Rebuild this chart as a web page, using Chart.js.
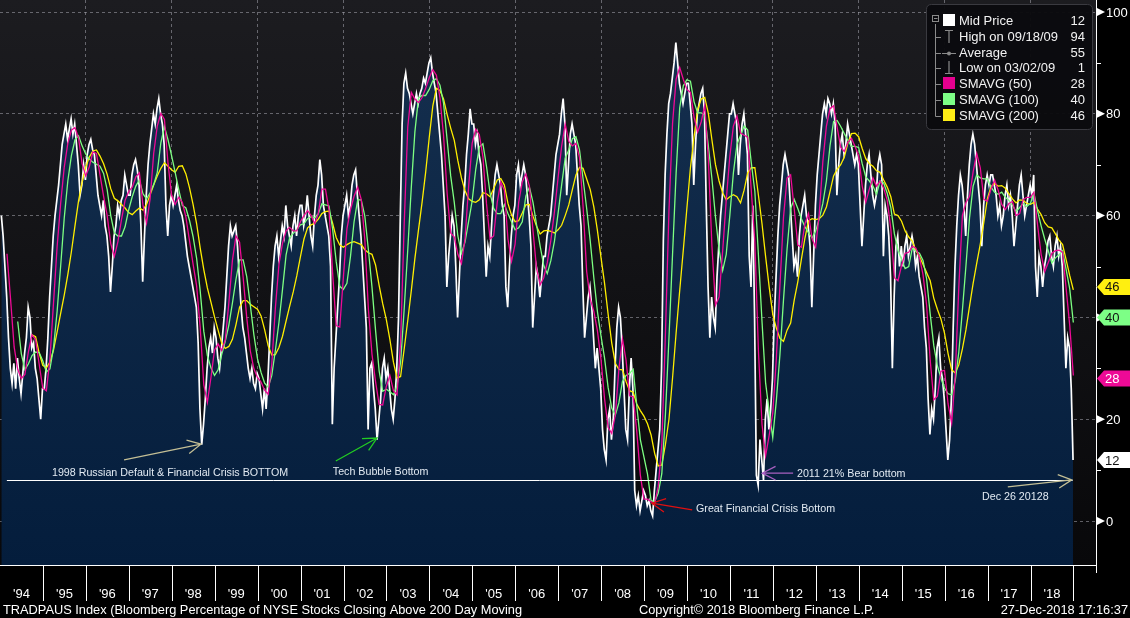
<!DOCTYPE html>
<html>
<head>
<meta charset="utf-8">
<title>TRADPAUS Index</title>
<script src="https://cdn.jsdelivr.net/npm/chart.js@4.4.1/dist/chart.umd.min.js"></script>
<style>
  html, body { margin: 0; padding: 0; background: #000; }
  #wrap { width: 1130px; height: 618px; position: relative; }
</style>
</head>
<body>
<div id="wrap"><canvas id="chartCanvas" width="1130" height="618"></canvas></div>
<script>
// -------------------------------------------------------------
// DATA
// -------------------------------------------------------------

// Mid price: two readings a month, Jan 1994 .. Dec 2018
var midPrice = [
  60, 56, 50, 44, 36, 30, 27, 31, 26, 32, 28, 25, 29, 33, 36, 42, 40, 34, 35, 30, 28, 24, 20, 26, // 1994
  26, 30, 36, 44, 50, 56, 60, 63, 66, 70, 74, 76, 78, 75, 77, 79, 76, 78, 74, 70, 64, 66, 70, 67, // 1995
  72, 74, 75, 73, 72, 68, 64, 62, 60, 63, 58, 56, 52, 45, 50, 56, 58, 62, 60, 63, 64, 68, 66, 64, // 1996
  64, 68, 70, 71, 69, 66, 58, 47, 56, 64, 70, 74, 77, 80, 78, 81, 83, 80, 78, 74, 62, 56, 62, 64, // 1997
  62, 64, 66, 63, 61, 60, 58, 55, 52, 50, 48, 46, 44, 42, 35, 22, 15, 19, 24, 30, 34, 36, 33, 38, // 1998
  36, 32, 30, 34, 38, 42, 48, 54, 58, 56, 57, 58, 54, 48, 42, 38, 36, 33, 30, 28, 30, 27, 26, 29, // 1999
  28, 25, 22, 26, 22, 28, 36, 44, 50, 54, 56, 52, 55, 58, 56, 62, 58, 56, 54, 58, 60, 56, 60, 62, // 2000
  62, 58, 60, 64, 60, 56, 54, 60, 64, 66, 71, 68, 62, 60, 58, 56, 50, 19, 30, 36, 42, 48, 56, 60, // 2001
  62, 64, 60, 62, 66, 68, 69, 64, 60, 56, 50, 44, 38, 18, 30, 31, 26, 22, 16, 20, 24, 30, 32, 28, // 2002
  30, 26, 22, 20, 24, 30, 40, 60, 78, 86, 88, 85, 84, 82, 80, 82, 84, 82, 84, 85, 87, 86, 88, 90, // 2003
  91, 88, 86, 84, 80, 76, 72, 66, 60, 46, 52, 56, 60, 58, 50, 40, 48, 56, 62, 66, 72, 76, 81, 78, // 2004
  78, 74, 76, 72, 70, 64, 56, 48, 54, 52, 58, 64, 68, 70, 68, 66, 62, 60, 46, 42, 50, 56, 60, 62, // 2005
  68, 70, 66, 68, 70, 68, 64, 60, 54, 38, 44, 50, 48, 44, 48, 52, 52, 56, 58, 60, 64, 68, 72, 74, // 2006
  76, 80, 83, 78, 64, 70, 76, 78, 76, 74, 68, 62, 58, 46, 36, 40, 44, 46, 42, 36, 30, 34, 30, 26, // 2007
  18, 14, 12, 20, 22, 16, 20, 30, 38, 42, 40, 34, 26, 18, 16, 26, 32, 26, 6, 3, 5, 2, 4, 6,       // 2008
  5, 3, 4, 2, 1, 6, 10, 14, 18, 30, 55, 68, 76, 82, 84, 87, 90, 94, 90, 86, 84, 82, 84, 86,       // 2009
  86, 82, 78, 66, 74, 80, 82, 84, 85, 80, 62, 46, 36, 44, 40, 38, 48, 54, 60, 64, 68, 72, 76, 80, // 2010
  80, 82, 80, 78, 68, 74, 78, 80, 76, 72, 52, 46, 62, 40, 9, 7, 16, 12, 8, 20, 24, 18, 22, 28,    // 2011
  40, 48, 56, 62, 66, 70, 72, 70, 68, 62, 56, 50, 52, 48, 56, 60, 62, 64, 60, 58, 54, 42, 52, 62, // 2012
  68, 72, 76, 80, 82, 80, 83, 82, 80, 82, 78, 64, 70, 74, 76, 72, 74, 78, 76, 74, 72, 70, 72, 70, // 2013
  62, 54, 60, 66, 70, 72, 68, 64, 62, 64, 70, 72, 70, 52, 62, 60, 56, 48, 30, 44, 54, 56, 50, 54, // 2014
  50, 54, 56, 52, 54, 56, 54, 50, 52, 48, 46, 44, 38, 34, 24, 17, 22, 20, 26, 34, 36, 30, 28, 24, // 2015
  18, 12, 16, 24, 38, 50, 58, 64, 68, 66, 62, 56, 64, 70, 74, 76, 74, 70, 66, 62, 54, 62, 66, 68, // 2016
  66, 68, 68, 66, 64, 60, 62, 58, 60, 64, 66, 62, 64, 60, 54, 58, 62, 66, 68, 64, 60, 62, 64, 66, // 2017
  64, 68, 50, 44, 52, 50, 46, 50, 52, 55, 56, 52, 50, 54, 56, 52, 54, 50, 40, 30, 36, 34, 26, 12  // 2018
]

// SMAVG (50): month ends, Feb 1994 .. Dec 2018
var sma50 = [
  52.5, 43.6, 34.2, 29.8, 28, 28.8, 33.3, 36.6, 35.6, 30.8, 26.1,
  25.6, 31.8, 42.8, 53.8, 62.4, 69.5, 74.2, 76.8, 77.3, 75.2, 70.2, 67.8,
  69.6, 72.5, 72.2, 68, 63.8, 60, 54.5, 52, 54.9, 59.2, 63, 64.7,
  65.6, 67.6, 68.4, 62.1, 58.5, 63.3, 72.2, 77.6, 80.1, 78.9, 70.3, 64,
  62.2, 63.6, 62.6, 59.7, 55.1, 50.5, 46.2, 38, 26.8, 23.3, 28.2, 33.6,
  34.8, 33.5, 35.6, 42.8, 51.2, 56, 54.8, 47.9, 40, 33.4, 29.9, 28.2,
  27.3, 25.7, 24.9, 30.8, 41.8, 50.4, 54.6, 57, 57.7, 57, 57, 58.8,
  60, 61, 60, 58.4, 60.4, 65.2, 65.2, 61.1, 48.8, 38.4, 38.1, 47.8,
  57.4, 61.2, 63.8, 65.6, 63.2, 55.3, 41.6, 32.8, 27.4, 22.9, 22.8, 26.4,
  28.6, 25.6, 24.8, 35, 58.2, 77.4, 84.2, 82.9, 82.2, 83.2, 85, 87.1,
  88.7, 87.6, 83.1, 75.8, 64.4, 56.6, 55.8, 52.4, 50.6, 55.4, 65.6, 74.2,
  77, 75.9, 71.6, 62.4, 55.4, 56, 62.6, 66.6, 65, 55.4, 51, 54.4,
  62.6, 66.6, 68.2, 65.8, 57, 49.6, 46.4, 47.8, 50.8, 55.2, 60.8, 67.4,
  73.6, 78, 74.6, 73.7, 74.2, 71.4, 61.8, 49, 43.6, 41.2, 37.4, 31.8,
  24, 18.4, 17.2, 20.8, 29.8, 35.8, 31.6, 24.6, 24.4, 17.6, 9, 4.3,
  4.3, 3.8, 3.4, 6.8, 15.1, 36.6, 61, 78.1, 86.8, 89.1, 86.8, 84.8,
  84.2, 79.4, 76.4, 78.4, 81.6, 71.2, 54.1, 42.4, 44, 53, 63, 71.6,
  77.6, 79.6, 76.2, 75.8, 75.4, 65, 54.8, 33.4, 19, 12.8, 16.8, 21.2,
  31.8, 46.2, 59.6, 67.4, 68, 61.4, 54.2, 53.8, 58.4, 60.4, 55.4, 53.8,
  60.4, 70.6, 77.6, 81, 81.6, 77.3, 73.4, 72.6, 74.4, 75.2, 73.6, 71.8,
  65.8, 62.6, 65.2, 67.4, 65.8, 66.8, 65.4, 63, 57.4, 47.8, 47.2, 50.2,
  52.6, 52.8, 54, 53.6, 51.8, 48.4, 42.4, 31.6, 23.8, 24.5, 29.4, 29.6,
  23, 19.2, 28.6, 46, 60, 62.6, 63.8, 68.6, 72.2, 69.4, 63.2, 62.8,
  65.2, 67, 65, 62.2, 61.2, 62.4, 62.8, 60, 60.4, 63.2, 63.6, 63.6,
  64.6, 58.2, 52.4, 49, 50.8, 52.6, 53.1, 53.2, 52.8, 45.6, 38.4, 28.6
]

// SMAVG (100): month ends, May 1994 .. Dec 2018
var sma100 = [
  39.2, 32.9, 29.7, 30.9, 32.5, 33.2, 33.1, 31.5,
  29.3, 29.9, 34, 41.1, 50.1, 59.5, 66.8, 71.8, 74.9, 75.7, 73.7, 72.1,
  71.1, 70.5, 70.1, 69.7, 68.3, 65.1, 60, 56.6, 56, 56, 57.8, 61.1,
  63.7, 65.8, 67, 64.3, 63.3, 64.5, 66.1, 68.5, 74.3, 77.5, 74.9, 71.8,
  68.5, 65.1, 62, 61.5, 59.1, 55.9, 51.6, 45.2, 37.3, 32.5, 30.1, 28.6,
  29.7, 32.7, 35.3, 38.5, 42.8, 47.5, 51.3, 51.3, 48, 42.4, 36.6, 31.9,
  29.2, 27.1, 26.3, 28.6, 33.5, 39, 45.5, 52.3, 55.7, 56.5, 57.3, 58.2,
  58.4, 59.4, 59.8, 59.6, 60.4, 62.3, 62.1, 61.9, 57.4, 51, 46.1, 45.5,
  46.7, 52, 58.8, 63.1, 63.1, 59.9, 53.3, 46, 37.5, 29.5, 25.5, 25.9,
  25.4, 24.8, 26.6, 31.2, 41.6, 53.3, 65.7, 76.5, 83.1, 83.6, 83.6, 84.8,
  86.5, 86.9, 85.6, 82.1, 74.9, 67.8, 62.6, 56, 52.6, 54.8, 58.8, 62.9,
  69.1, 73.5, 74.1, 69.7, 64.4, 61.4, 60.4, 60.4, 62.2, 60.4, 58.8, 57.2,
  57.6, 58.8, 63.8, 65.6, 62.6, 58.2, 54, 50.2, 48.6, 51.2, 55, 60.4,
  66, 71.3, 72.9, 75.1, 75.5, 72.9, 67.2, 61.4, 55, 47.8, 41.2, 36.4,
  32, 26.2, 22.2, 20.8, 23.2, 27.4, 28.6, 29, 29.8, 22.7, 16, 12.6,
  9.2, 4, 3.8, 5.5, 9.3, 20.8, 36, 52.4, 68.4, 81.2, 85.5, 86.7,
  86.4, 82.4, 80.2, 80.2, 79.7, 73.7, 67.3, 59.7, 53.3, 49.2, 52.4, 60,
  68.4, 74, 75.8, 77.6, 76.8, 70.4, 64.8, 52.2, 39.2, 27.2, 21.6, 16.4,
  23.6, 32.6, 43.4, 53.4, 61.4, 63.2, 61.4, 59.4, 57.8, 56.6, 55.6, 57,
  59.4, 62.4, 66.8, 73.7, 78.5, 78.7, 77.5, 76.1, 74.8, 73.6, 73.6, 73.4,
  70.2, 67.6, 66.8, 65.8, 64.2, 66.8, 66.4, 64.4, 61.6, 56.4, 53.2, 51.4,
  49.6, 50, 53.6, 53, 52.6, 51.2, 47.6, 40.7, 34.5, 30.5, 28.1, 26.1,
  25, 24.8, 27.6, 33.2, 41.4, 50.2, 59.6, 65.8, 68, 67.4, 67.2, 67.2,
  65.6, 64.6, 64.2, 64.6, 63.6, 63, 62, 60.8, 61.6, 62.4, 61.8, 62.4,
  64.4, 61, 58, 55.4, 53.1, 50.7, 51.7, 52.3, 53.1, 49.4, 45.6, 39
]

// SMAVG (200): month ends, Sep 1994 .. Dec 2018
var sma200 = [
  36.6, 36.2, 33, 30.6,
  30.1, 31.2, 33.6, 37.1, 40.8, 44.4, 48.4, 52.9, 58, 62.9, 66.6, 69.5,
  71.5, 72.7, 72.9, 71.7, 70.2, 68.1, 65.3, 63.4, 62.9, 62.2, 61.5, 60.6,
  60.2, 60.9, 61.5, 61.1, 62.2, 64.1, 66, 67.8, 69.3, 70.4, 69.7, 69,
  68.5, 69.7, 69.8, 68.2, 65.5, 62.2, 58.4, 53.6, 49.4, 45.8, 43, 40.1,
  37.5, 35, 33.9, 34.3, 35.7, 38.6, 42, 43.3, 43.3, 42.6, 42.1, 41.6,
  40.3, 37.6, 34.4, 32.6, 32.7, 34.1, 36.3, 39.3, 42.2, 45, 48.2, 51.9,
  55.4, 57.6, 58.2, 58.5, 59.3, 60.4, 60.8, 60.9, 58.5, 55.7, 54.2, 53.8,
  54.3, 54.7, 54.9, 54.6, 54.3, 53.3, 52.7, 52.4, 50.3, 46.3, 42.7, 39.6,
  35.7, 31.2, 28.1, 28.4, 33.8, 39.4, 45.3, 51.6, 57.2, 62.6, 68.5, 75.3,
  81.5, 85, 84.6, 82.9, 79.9, 77.2, 74.8, 70.8, 67.4, 64.9, 63.3, 62.8,
  62.6, 63.1, 64.5, 64.3, 63.7, 65.3, 67, 67.3, 66, 62.4, 60.1, 58.8,
  59, 60.5, 62.1, 62.2, 59.9, 57.9, 56.4, 57, 57.1, 56.9, 56.6, 57.2,
  58.1, 60, 62.1, 65.1, 68, 69.5, 69.3, 67.2, 65.1, 61.7, 57.1, 51.8,
  46.7, 40.6, 35, 31, 29.8, 29.7, 27.4, 25.6, 25.3, 23, 21.7, 20.6,
  19.1, 16.9, 13.3, 10.8, 11, 15, 20, 28.1, 37, 45.3, 53.2, 61.4,
  69.4, 75.4, 80.7, 82.9, 83.2, 80.1, 74.9, 70, 66.8, 64.5, 63.1, 63.7,
  64.1, 63.7, 62.5, 65, 68.4, 69.4, 69.4, 64, 58.4, 52, 46, 40.6,
  37.9, 35.9, 35.3, 37.5, 38.9, 43.4, 47, 51.4, 55.6, 59, 59.4, 59.2,
  59.4, 60.1, 61.7, 64.7, 67.8, 69.1, 70, 71.5, 74.3, 76.1, 76.2, 75.5,
  73.2, 71.2, 70.2, 69.7, 68.8, 68.5, 67, 65.6, 63.7, 60.3, 60, 58.9,
  57, 55.8, 55, 53.1, 52, 50.4, 48.8, 47.2, 43.8, 41.6, 39.7, 36.9,
  32.9, 29.7, 29.1, 30.7, 33.8, 37.6, 42.2, 46.7, 50.6, 54.4, 58.7, 63.4,
  65.7, 66.3, 65.8, 65.9, 65.4, 64.3, 63.3, 62.5, 63.1, 63, 62.4, 62.2,
  62.6, 61.3, 60.2, 58.6, 57.8, 57.6, 56.4, 55.2, 54.3, 51.3, 48.2, 45.4
]

// First month (0 = Jan 1994) of each moving average
var sma50Start = 1
var sma100Start = 4
var sma200Start = 8

// Axis labels
var yearLabels = ["'94", "'95", "'96", "'97", "'98", "'99", "'00", "'01", "'02", "'03", "'04", "'05",
  "'06", "'07", "'08", "'09", "'10", "'11", "'12", "'13", "'14", "'15", "'16", "'17", "'18"]
var firstYear = 1994
var yTicks = [0, 20, 40, 60, 80, 100]
var yMinorTicks = [10, 30, 50, 70, 90]
var gridYears = [1996, 1998, 2000, 2002, 2004, 2006, 2008, 2010, 2012, 2014, 2016, 2018]

// Legend rows: label and value
var legendLabels = ['Mid Price', 'High on 09/18/09', 'Average', 'Low on 03/02/09', 'SMAVG (50)', 'SMAVG (100)', 'SMAVG (200)']
var legendValues = ['12', '94', '55', '1', '28', '40', '46']

// Last values shown in the tags on the right axis
var lastMid = 12
var last50 = 28
var last100 = 40
var last200 = 46

// Horizontal white level line (drawn by the user on the screen)
var levelValue = 8
var levelFrom = 1994.16
var levelTo = 2018.98

// Text notes drawn on the chart: [text, x, y, arrow from x/y, arrow to x/y, colour]
var notes = [
  ['1998 Russian Default & Financial Crisis BOTTOM', 1995.21, 9.5, 1996.89, 12.0, 1998.68, 15.1, '#c4bf95'],
  ['Tech Bubble Bottom', 2001.75, 9.6, 2001.82, 11.8, 2002.78, 16.3, '#22cc22'],
  ['Great Financial Crisis Bottom', 2010.21, 2.4, 2010.12, 2.2, 2009.18, 3.5, '#e01010'],
  ['2011 21% Bear bottom', 2012.56, 9.2, 2012.47, 9.4, 2011.75, 9.4, '#a860c0'],
  ['Dec 26 20128', 2016.87, 4.7, 2017.47, 6.7, 2018.96, 8.1, '#c4bf95']
]

var footerLeft = 'TRADPAUS Index (Bloomberg Percentage of NYSE Stocks Closing Above 200 Day Moving'
var footerMid = 'Copyright\u00A9 2018 Bloomberg Finance L.P.'
var footerRight = '27-Dec-2018 17:16:37'

// -------------------------------------------------------------
// COLOURS / FONT
// -------------------------------------------------------------
var FONT = '"Liberation Sans", Arial, sans-serif'
var colMid = '#ffffff'
var col50 = '#ee0a96'
var col100 = '#7dff82'
var col200 = '#ffef00'

// -------------------------------------------------------------
// BUILD POINTS (x = decimal year)
// -------------------------------------------------------------
var midPoints = midPrice.map((v, i) => ({ x: firstYear + (i + 0.75) / 24, y: v }))

function monthPoints(arr, start) {
  return arr.map((v, i) => ({ x: firstYear + (start + i + 0.95) / 12, y: v }))
}

// -------------------------------------------------------------
// PLUGINS
// -------------------------------------------------------------
var backgroundPlugin = {
  id: 'bbgBackground',
  beforeDraw(chart) {
    var ctx = chart.ctx
    var a = chart.chartArea
    ctx.save()
    ctx.fillStyle = '#000'
    ctx.fillRect(0, 0, chart.width, chart.height)
    var g = ctx.createLinearGradient(0, a.top, 0, a.bottom)
    g.addColorStop(0, '#1c1c20')
    g.addColorStop(1, '#08080a')
    ctx.fillStyle = g
    ctx.fillRect(a.left, a.top, a.right - a.left, a.bottom - a.top)
    ctx.restore()
  }
}

function drawArrow(ctx, x1, y1, x2, y2, color) {
  ctx.strokeStyle = color
  ctx.lineWidth = 1.3
  ctx.beginPath()
  ctx.moveTo(x1, y1)
  ctx.lineTo(x2, y2)
  var ang = Math.atan2(y1 - y2, x1 - x2)
  var len = 15
  ctx.moveTo(x2 + len * Math.cos(ang + 0.47), y2 + len * Math.sin(ang + 0.47))
  ctx.lineTo(x2, y2)
  ctx.lineTo(x2 + len * Math.cos(ang - 0.47), y2 + len * Math.sin(ang - 0.47))
  ctx.stroke()
}

function tag(ctx, py, fill, textColor, text) {
  ctx.fillStyle = fill
  ctx.beginPath()
  ctx.moveTo(1097, py)
  ctx.lineTo(1104, py - 8)
  ctx.lineTo(1130, py - 8)
  ctx.lineTo(1130, py + 8)
  ctx.lineTo(1104, py + 8)
  ctx.closePath()
  ctx.fill()
  ctx.fillStyle = textColor
  ctx.textAlign = 'left'
  ctx.textBaseline = 'middle'
  ctx.fillText(text, 1105, py + 1)
}

var overlayPlugin = {
  id: 'bbgOverlay',
  afterDraw(chart) {
    var ctx = chart.ctx
    var xs = chart.scales.x
    var ys = chart.scales.y
    var a = chart.chartArea
    ctx.save()

    // level line
    ctx.strokeStyle = '#ffffff'
    ctx.lineWidth = 1
    ctx.beginPath()
    var ly = Math.round(ys.getPixelForValue(levelValue)) + 0.5
    ctx.moveTo(xs.getPixelForValue(levelFrom), ly)
    ctx.lineTo(xs.getPixelForValue(levelTo), ly)
    ctx.stroke()

    // notes + arrows
    ctx.font = '10.7px ' + FONT
    ctx.textBaseline = 'middle'
    ctx.textAlign = 'left'
    notes.forEach(n => {
      drawArrow(ctx, xs.getPixelForValue(n[3]), ys.getPixelForValue(n[4]),
        xs.getPixelForValue(n[5]), ys.getPixelForValue(n[6]), n[7])
      ctx.fillStyle = '#e2eaf2'
      ctx.fillText(n[0], xs.getPixelForValue(n[1]), ys.getPixelForValue(n[2]))
    })

    // bottom and right axis lines
    ctx.strokeStyle = '#ffffff'
    ctx.lineWidth = 1
    ctx.beginPath()
    ctx.moveTo(0, a.bottom + 0.5)
    ctx.lineTo(a.right, a.bottom + 0.5)
    ctx.moveTo(a.right + 0.5, 0)
    ctx.lineTo(a.right + 0.5, a.bottom + 8)
    ctx.stroke()

    // minor ticks
    yMinorTicks.forEach(v => {
      var py = Math.round(ys.getPixelForValue(v)) + 0.5
      ctx.beginPath()
      ctx.moveTo(a.right, py)
      ctx.lineTo(a.right + 5, py)
      ctx.stroke()
    })

    // major ticks with pointer + label
    ctx.font = '13px ' + FONT
    yTicks.forEach(v => {
      var py = ys.getPixelForValue(v)
      ctx.fillStyle = '#ffffff'
      ctx.beginPath()
      ctx.moveTo(a.right + 1, py - 4)
      ctx.lineTo(a.right + 9, py)
      ctx.lineTo(a.right + 1, py + 4)
      ctx.closePath()
      ctx.fill()
      ctx.textAlign = 'left'
      ctx.textBaseline = 'middle'
      ctx.fillText(String(v), a.right + 10, py + 1)
    })

    // last value tags
    tag(ctx, ys.getPixelForValue(last200), '#ffef10', '#111', String(last200))
    tag(ctx, ys.getPixelForValue(last100), '#7dff86', '#111', String(last100))
    tag(ctx, ys.getPixelForValue(last50), '#ee0a96', '#fff', String(last50))
    tag(ctx, ys.getPixelForValue(lastMid), '#ffffff', '#111', String(lastMid))

    // year separators and labels
    ctx.strokeStyle = '#ffffff'
    ctx.fillStyle = '#ffffff'
    ctx.font = '13px ' + FONT
    ctx.textAlign = 'center'
    ctx.textBaseline = 'middle'
    yearLabels.forEach((lab, i) => {
      var x0 = xs.getPixelForValue(firstYear + i)
      var x1 = xs.getPixelForValue(firstYear + i + 1)
      var sx = Math.round(x1) + 0.5
      ctx.beginPath()
      ctx.moveTo(sx, a.bottom + 1)
      ctx.lineTo(sx, a.bottom + 36)
      ctx.stroke()
      ctx.fillText(lab, (x0 + x1) / 2, a.bottom + 29)
    })

    // footer
    ctx.font = '12.8px ' + FONT
    ctx.textBaseline = 'middle'
    ctx.textAlign = 'left'
    ctx.fillText(footerLeft, 3, 610)
    ctx.fillText(footerMid, 639, 610)
    ctx.textAlign = 'right'
    ctx.fillText(footerRight, 1128, 610)

    // legend box
    drawLegend(ctx)
    ctx.restore()
  }
}

function roundRect(ctx, x, y, w, h, r) {
  ctx.beginPath()
  ctx.moveTo(x + r, y)
  ctx.lineTo(x + w - r, y)
  ctx.quadraticCurveTo(x + w, y, x + w, y + r)
  ctx.lineTo(x + w, y + h - r)
  ctx.quadraticCurveTo(x + w, y + h, x + w - r, y + h)
  ctx.lineTo(x + r, y + h)
  ctx.quadraticCurveTo(x, y + h, x, y + h - r)
  ctx.lineTo(x, y + r)
  ctx.quadraticCurveTo(x, y, x + r, y)
  ctx.closePath()
}

function drawLegend(ctx) {
  var bx = 926, by = 4, bw = 166, bh = 125
  roundRect(ctx, bx + 0.5, by + 0.5, bw, bh, 5)
  ctx.fillStyle = 'rgba(11,11,14,0.97)'
  ctx.fill()
  ctx.strokeStyle = '#3a3a40'
  ctx.lineWidth = 1
  ctx.stroke()

  var rowY = [21, 37, 53, 68, 84, 100, 116]
  var gray = '#8a8a8a'

  // tree lines
  ctx.strokeStyle = gray
  ctx.beginPath()
  ctx.moveTo(935.5, 24)
  ctx.lineTo(935.5, rowY[6] + 0.5)
  for (var i = 1; i < rowY.length; i++) {
    ctx.moveTo(935.5, rowY[i] + 0.5)
    ctx.lineTo(941, rowY[i] + 0.5)
  }
  ctx.stroke()
  ctx.strokeRect(932.5, 15.5, 6, 6)
  ctx.beginPath()
  ctx.moveTo(934, 18.5)
  ctx.lineTo(937.5, 18.5)
  ctx.stroke()

  // swatches / icons
  var sw = [colMid, null, null, null, '#e6008f', '#7dff86', '#ffee16']
  sw.forEach((c, i) => {
    if (c) {
      ctx.fillStyle = c
      ctx.fillRect(943, rowY[i] - 7, 12, 12)
    }
  })
  ctx.strokeStyle = gray
  ctx.lineWidth = 1.2
  ctx.beginPath()
  // high "T"
  ctx.moveTo(945, rowY[1] - 6.5); ctx.lineTo(953, rowY[1] - 6.5)
  ctx.moveTo(949, rowY[1] - 6.5); ctx.lineTo(949, rowY[1] + 6)
  // average
  ctx.moveTo(942, rowY[2] + 0.5); ctx.lineTo(956, rowY[2] + 0.5)
  // low
  ctx.moveTo(949, rowY[3] - 7); ctx.lineTo(949, rowY[3] + 5.5)
  ctx.moveTo(945, rowY[3] + 5.5); ctx.lineTo(953, rowY[3] + 5.5)
  ctx.stroke()
  ctx.fillStyle = gray
  ctx.beginPath()
  ctx.arc(949, rowY[2] + 0.5, 2, 0, Math.PI * 2)
  ctx.fill()

  // text
  ctx.font = '13px ' + FONT
  ctx.textBaseline = 'middle'
  ctx.fillStyle = '#f2f2f2'
  legendLabels.forEach((lab, i) => {
    ctx.textAlign = 'left'
    ctx.fillText(lab, 959, rowY[i])
    ctx.textAlign = 'right'
    ctx.fillText(legendValues[i], 1085, rowY[i])
  })
}

// -------------------------------------------------------------
// CHART
// -------------------------------------------------------------
var ctx = document.getElementById('chartCanvas')

var myChart = new Chart(ctx, {
  type: 'line',
  data: {
    datasets: [
      {
        label: 'SMAVG (50)',
        data: monthPoints(sma50, sma50Start),
        borderColor: col50,
        borderWidth: 1.3,
        pointRadius: 0,
        fill: false,
        order: 1
      },
      {
        label: 'SMAVG (100)',
        data: monthPoints(sma100, sma100Start),
        borderColor: col100,
        borderWidth: 1.3,
        pointRadius: 0,
        fill: false,
        order: 2
      },
      {
        label: 'SMAVG (200)',
        data: monthPoints(sma200, sma200Start),
        borderColor: col200,
        borderWidth: 1.3,
        pointRadius: 0,
        fill: false,
        order: 3
      },
      {
        label: 'Mid Price',
        data: midPoints,
        borderColor: colMid,
        borderWidth: 1.7,
        pointRadius: 0,
        fill: 'start',
        backgroundColor: function (context) {
          var c = context.chart
          if (!c.chartArea) return '#0a2244'
          var g = c.ctx.createLinearGradient(0, c.chartArea.top, 0, c.chartArea.bottom)
          g.addColorStop(0, '#16304f')
          g.addColorStop(1, '#041d3c')
          return g
        },
        order: 4
      }
    ]
  },
  options: {
    responsive: false,
    animation: false,
    events: [],
    layout: { padding: 0 },
    plugins: {
      legend: { display: false },
      tooltip: { enabled: false }
    },
    scales: {
      x: {
        type: 'linear',
        min: 1994,
        max: 2019.524,
        z: 1,
        afterBuildTicks: scale => { scale.ticks = gridYears.map(v => ({ value: v })) },
        afterFit: scale => { scale.height = 53 },
        ticks: { display: false },
        grid: {
          color: 'rgba(165,165,175,0.55)',
          lineWidth: 1,
          drawTicks: false,
          tickLength: 0
        },
        border: { display: false, dash: [3, 3] }
      },
      y: {
        position: 'right',
        min: -8.64,
        max: 102.36,
        z: 1,
        afterBuildTicks: scale => { scale.ticks = yTicks.map(v => ({ value: v })) },
        afterFit: scale => { scale.width = 34 },
        ticks: { display: false },
        grid: {
          color: 'rgba(165,165,175,0.55)',
          lineWidth: 1,
          drawTicks: false,
          tickLength: 0
        },
        border: { display: false, dash: [3, 3] }
      }
    }
  },
  plugins: [backgroundPlugin, overlayPlugin]
})
</script>
</body>
</html>
